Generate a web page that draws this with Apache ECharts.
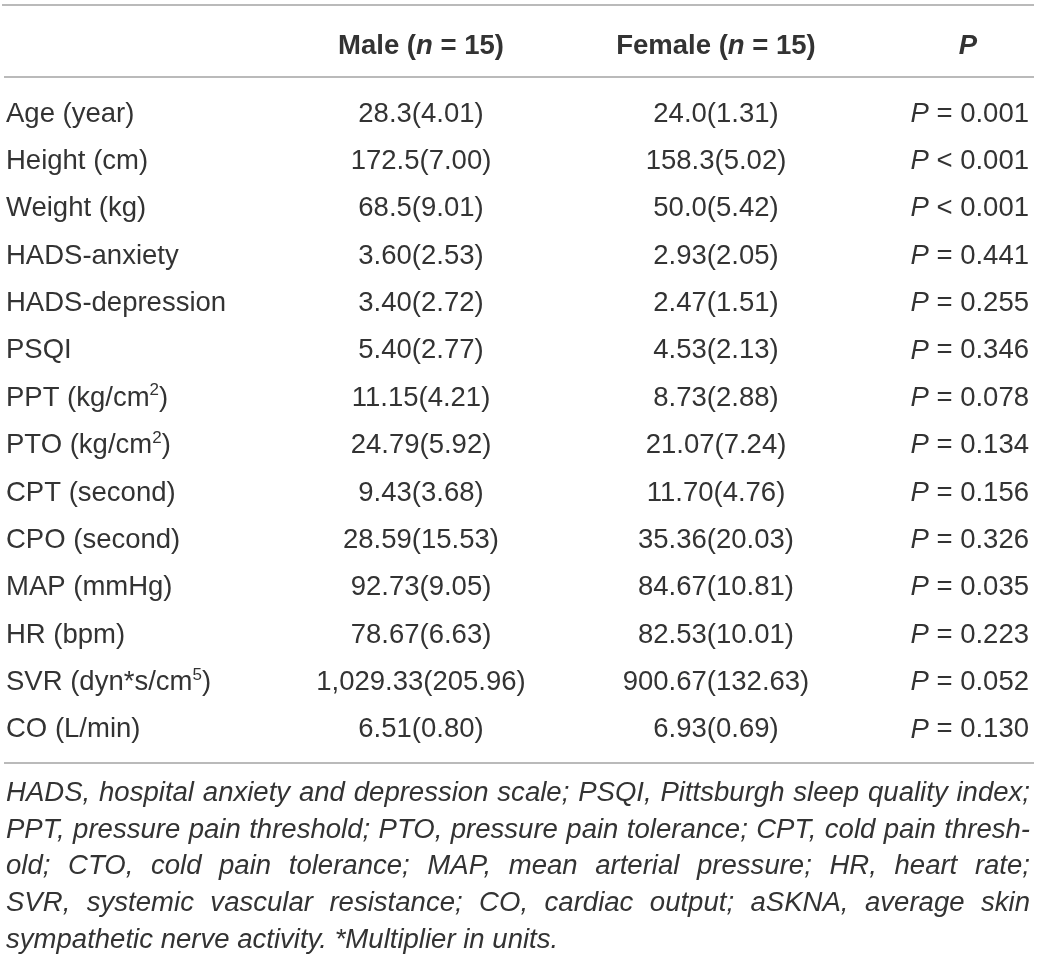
<!DOCTYPE html>
<html><head><meta charset="utf-8">
<script src="https://cdn.jsdelivr.net/npm/echarts@6/dist/echarts.min.js"></script>
<style>html,body{margin:0;padding:0;background:#fff}#c{width:1040px;height:961px}</style>
</head><body><div id="c"></div>
<script>
// ---- data ----
const rowLabels = ['Age (year)','Height (cm)','Weight (kg)','HADS-anxiety','HADS-depression','PSQI',
  'PPT (kg/cm^2)','PTO (kg/cm^2)','CPT (second)','CPO (second)','MAP (mmHg)','HR (bpm)','SVR (dyn*s/cm^5)','CO (L/min)'];
const maleMean = [28.3,172.5,68.5,3.60,3.40,5.40,11.15,24.79,9.43,28.59,92.73,78.67,1029.33,6.51];
const maleSD = [4.01,7.00,9.01,2.53,2.72,2.77,4.21,5.92,3.68,15.53,9.05,6.63,205.96,0.80];
const femaleMean = [24.0,158.3,50.0,2.93,2.47,4.53,8.73,21.07,11.70,35.36,84.67,82.53,900.67,6.93];
const femaleSD = [1.31,5.02,5.42,2.05,1.51,2.13,2.88,7.24,4.76,20.03,10.81,10.01,132.63,0.69];
const meanDecimals = [1,1,1,2,2,2,2,2,2,2,2,2,2,2];
const pOps = ['=','<','<','=','=','=','=','=','=','=','=','=','=','='];
const pValues = [0.001,0.001,0.001,0.441,0.255,0.346,0.078,0.134,0.156,0.326,0.035,0.223,0.052,0.130];
const headers = ['Male', 'Female', 'P'];
const groupN = [15, 15];
const footnoteLines = [
  'HADS, hospital anxiety and depression scale; PSQI, Pittsburgh sleep quality index;',
  'PPT, pressure pain threshold; PTO, pressure pain tolerance; CPT, cold pain thresh-',
  'old; CTO, cold pain tolerance; MAP, mean arterial pressure; HR, heart rate;',
  'SVR, systemic vascular resistance; CO, cardiac output; aSKNA, average skin',
  'sympathetic nerve activity. *Multiplier in units.'
];

// ---- layout / style ----
const FONT = '"Liberation Sans", Arial, Helvetica, sans-serif';
const INK = '#333333';
const FS = 27.5;
const X_LABEL = 6, X_MALE = 421, X_FEMALE = 716, X_P = 1029, X_PHEAD = 968;
const LEFT = 6, RIGHT = 1030;

function fmt(v, d){ return v.toLocaleString('en-US', {minimumFractionDigits:d, maximumFractionDigits:d}); }
function labelRich(s){
  return s.split(/\^(\d)/).map((t, k) => k % 2 ? '{sup|' + t + '}' : (t ? '{n|' + t + '}' : '')).join('');
}
const rich = {
  n: {fontSize: FS, fontFamily: FONT, fill: INK, lineHeight: 32},
  sup: {fontSize: 17, fontFamily: FONT, fill: INK, lineHeight: 18, verticalAlign: 'top'},
  i: {fontSize: FS, fontFamily: FONT, fontStyle: 'italic', fill: INK, lineHeight: 32},
  b: {fontSize: FS, fontFamily: FONT, fontWeight: 'bold', fill: INK, lineHeight: 32},
  bi: {fontSize: FS, fontFamily: FONT, fontWeight: 'bold', fontStyle: 'italic', fill: INK, lineHeight: 32}
};
function txt(x, y, text, align){
  return {type: 'text', x: x, y: y, style: {text: text, rich: rich, align: align, textAlign: align,
    verticalAlign: 'middle', textVerticalAlign: 'middle', fill: INK, fontSize: FS, fontFamily: FONT}};
}

// footnote justified layout
const ctx = document.createElement('canvas').getContext('2d');
function mw(t, fs){ ctx.font = 'italic ' + fs + 'px ' + FONT; return ctx.measureText(t).width; }
let FFS = 28;
const maxNat = Math.max(...footnoteLines.slice(0, 4).map(l => mw(l, FFS)));
if (maxNat > (RIGHT - LEFT) - 8) FFS = FFS * ((RIGHT - LEFT) - 8) / maxNat;
const footY0 = 793.5, footDY = 36.6;
const footEls = [];
footnoteLines.forEach((line, li) => {
  const words = line.split(' ');
  const y = footY0 + li * footDY;
  const last = li === footnoteLines.length - 1;
  const ws = words.map(w => mw(w, FFS));
  const gap = last ? mw(' ', FFS) : ((RIGHT - LEFT) - ws.reduce((a, b) => a + b, 0)) / (words.length - 1);
  let x = LEFT;
  words.forEach((w, k) => {
    footEls.push({type: 'text', x: x, y: y, style: {text: w, fill: INK, fontSize: FFS, fontFamily: FONT,
      fontStyle: 'italic', align: 'left', textAlign: 'left', verticalAlign: 'middle', textVerticalAlign: 'middle'}});
    x += ws[k] + gap;
  });
});

const lineStyle = {stroke: '#a3a3a3', lineWidth: 1.5};
const graphicEls = [
  {type: 'line', shape: {x1: 2, y1: 5, x2: 1034, y2: 5}, style: lineStyle},
  {type: 'line', shape: {x1: 4, y1: 77, x2: 1034, y2: 77}, style: lineStyle},
  {type: 'line', shape: {x1: 4, y1: 763, x2: 1034, y2: 763}, style: lineStyle},
  txt(X_MALE, 46, '{b|' + headers[0] + ' (}{bi|n}{b| = ' + groupN[0] + ')}', 'center'),
  txt(X_FEMALE, 46, '{b|' + headers[1] + ' (}{bi|n}{b| = ' + groupN[1] + ')}', 'center'),
  txt(X_PHEAD, 46, '{bi|' + headers[2] + '}', 'center')
].concat(footEls);

const chart = echarts.init(document.getElementById('c'), null, {renderer: 'canvas'});
chart.setOption({
  animation: false,
  backgroundColor: '#fff',
  grid: {left: 0, right: 0, top: 90.3, height: 663.3},
  xAxis: {type: 'value', min: 0, max: 1040, show: false},
  yAxis: {type: 'category', data: rowLabels, inverse: true, show: false},
  graphic: {elements: graphicEls},
  series: [{
    type: 'custom',
    data: rowLabels.map((_, i) => [i]),
    encode: {y: 0},
    renderItem: function (params, api) {
      const i = api.value(0);
      const y = api.coord([0, i])[1];
      const cx = v => api.coord([v, i])[0];
      return {type: 'group', children: [
        txt(cx(X_LABEL), y, labelRich(rowLabels[i]), 'left'),
        txt(cx(X_MALE), y, '{n|' + fmt(maleMean[i], meanDecimals[i]) + '(' + fmt(maleSD[i], 2) + ')}', 'center'),
        txt(cx(X_FEMALE), y, '{n|' + fmt(femaleMean[i], meanDecimals[i]) + '(' + fmt(femaleSD[i], 2) + ')}', 'center'),
        txt(cx(X_P), y, '{i|P}{n| ' + pOps[i] + ' ' + fmt(pValues[i], 3) + '}', 'right')
      ]};
    }
  }]
});
</script></body></html>
